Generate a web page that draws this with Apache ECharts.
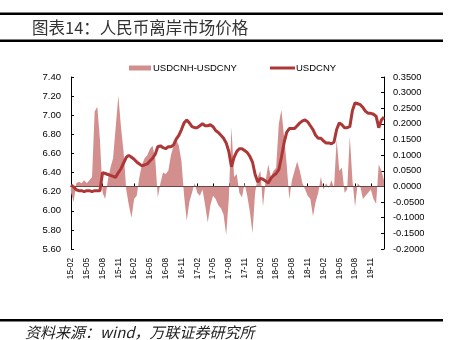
<!DOCTYPE html>
<html><head><meta charset="utf-8">
<script src="https://cdn.jsdelivr.net/npm/echarts@6/dist/echarts.min.js"></script>
<style>html,body{margin:0;padding:0;background:#fff}#c{width:451px;height:340px}</style>
</head><body><div id="c"></div>
<script>
// Tick labels shown on the x axis (every 3 months)
const tickLabels = ['15-02','15-05','15-08','15-11','16-02','16-05','16-08','16-11','17-02','17-05','17-08','17-11','18-02','18-05','18-08','18-11','19-02','19-05','19-08','19-11'];
// Semi-monthly observations starting 2015-02
const startYear = 2015, startMonth = 2, perMonth = 2;
// USDCNY (left axis)
const usdcny = [6.27,6.25,6.22,6.21,6.21,6.20,6.21,6.21,6.20,6.21,
6.21,6.21,6.40,6.39,6.38,6.37,6.36,6.35,6.40,6.44,
6.50,6.56,6.58,6.56,6.54,6.51,6.49,6.47,6.48,6.49,
6.52,6.55,6.59,6.67,6.68,6.66,6.65,6.67,6.67,6.69,
6.75,6.79,6.85,6.92,6.95,6.92,6.88,6.87,6.87,6.89,
6.91,6.89,6.89,6.90,6.88,6.84,6.82,6.79,6.76,6.71,
6.62,6.46,6.56,6.62,6.65,6.65,6.63,6.61,6.57,6.51,
6.38,6.30,6.34,6.33,6.31,6.29,6.34,6.37,6.39,6.43,
6.56,6.71,6.82,6.86,6.86,6.86,6.89,6.92,6.94,6.95,
6.93,6.89,6.85,6.79,6.76,6.76,6.73,6.71,6.71,6.70,
6.72,6.85,6.92,6.90,6.87,6.87,6.88,7.05,7.13,7.12,
7.11,7.08,7.04,7.02,7.02,7.01,6.99,6.87,6.95,6.98];
// USDCNH-USDCNY spread (right axis)
const spread = [-0.02,-0.05,0.01,0.015,0.01,0.02,0.01,0.02,0.03,0.24,
0.255,0.15,-0.02,-0.04,0.02,0.06,0.09,0.19,0.29,0.19,
0.11,-0.01,-0.06,-0.10,-0.04,-0.03,0.03,0.07,0.09,0.10,
0.12,0.13,0.09,-0.035,0.01,0.045,0.04,0.05,0.10,0.13,
0.15,0.13,0.08,-0.03,-0.11,-0.05,-0.02,0.01,-0.02,-0.03,
-0.01,-0.06,-0.115,-0.06,-0.03,-0.04,-0.06,-0.07,-0.09,-0.155,
-0.04,0.19,0.03,0.04,-0.02,-0.035,0.01,-0.03,-0.08,-0.15,
-0.02,0.03,0.05,-0.065,0.02,0.07,0.03,0.05,0.06,0.20,
0.245,0.16,0.07,-0.04,0.02,0.05,0.08,0.05,0.01,-0.01,
-0.03,-0.04,-0.095,-0.05,-0.02,0.03,-0.01,0.01,-0.005,0.02,
-0.005,0.15,0.05,0.06,-0.02,-0.01,0.16,0.02,-0.065,0.01,
0.00,-0.04,-0.03,-0.02,-0.01,-0.04,-0.055,0.07,0.05,0.02];

const categories = usdcny.map((_, k) => {
  const m = startMonth - 1 + Math.floor(k / perMonth);
  const y = startYear + Math.floor(m / 12);
  const mm = (m % 12) + 1;
  return String(y).slice(2) + '-' + String(mm).padStart(2, '0') + (k % perMonth ? '-16' : '-01');
});
const isTick = (i, v) => v.endsWith('-01') && tickLabels.includes(v.slice(0, 5));

const FONT = '"Liberation Sans", Arial, sans-serif';
const chart = echarts.init(document.getElementById('c'), null, {renderer: 'canvas'});
chart.setOption({
  animation: false,
  backgroundColor: '#fff',
  grid: {left: 71, right: 67, top: 77, bottom: 91},
  legend: [
    {left: 124, top: 58, itemWidth: 22, itemHeight: 5, data: [{name: 'USDCNH-USDCNY', icon: 'rect'}],
     textStyle: {fontSize: 9.5, color: '#000', fontFamily: FONT, padding: [0,0,0,-3]}},
    {left: 265, top: 58, itemWidth: 25, itemHeight: 3, data: [{name: 'USDCNY', icon: 'rect'}],
     textStyle: {fontSize: 9.5, color: '#000', fontFamily: FONT, padding: [0,0,0,-4]}}
  ],
  xAxis: {
    type: 'category', data: categories, boundaryGap: false,
    axisLine: {lineStyle: {color: '#000', width: 1}},
    axisTick: {inside: true, length: 3, interval: isTick, lineStyle: {color: '#000'}},
    axisLabel: {interval: isTick, rotate: 90, margin: 9, fontSize: 8.3, color: '#000', fontFamily: FONT,
                formatter: v => v.slice(0, 5)},
    splitLine: {show: false}
  },
  yAxis: [
    {type: 'value', min: 5.6, max: 7.4, interval: 0.2, position: 'left',
     axisLine: {show: true, lineStyle: {color: '#000'}},
     axisTick: {show: true, inside: true, length: 3, lineStyle: {color: '#000'}},
     axisLabel: {margin: 10, fontSize: 9.5, color: '#000', fontFamily: FONT, formatter: v => v.toFixed(2)},
     splitLine: {show: false}},
    {type: 'value', min: -0.2, max: 0.35, interval: 0.05, position: 'right',
     axisLine: {show: true, lineStyle: {color: '#000'}},
     axisTick: {show: true, inside: true, length: 3, lineStyle: {color: '#000'}},
     axisLabel: {margin: 9, fontSize: 9.3, color: '#000', fontFamily: FONT, formatter: v => v.toFixed(4)},
     splitLine: {show: false}}
  ],
  series: [
    {name: 'USDCNH-USDCNY', type: 'line', yAxisIndex: 1, data: spread, symbol: 'none',
     color: '#d38e8e', lineStyle: {width: 0}, areaStyle: {color: '#d38e8e', opacity: 1}, z: 1},
    {name: 'USDCNY', type: 'line', yAxisIndex: 0, data: usdcny, symbol: 'none',
     color: '#ad3737', lineStyle: {width: 3, color: '#ad3737'}, z: 3}
  ],
  graphic: [
    {type: 'rect', shape: {x: 0, y: 12.5, width: 443, height: 2.5}, style: {fill: '#000'}},
    {type: 'rect', shape: {x: 0, y: 39.5, width: 443, height: 2.5}, style: {fill: '#000'}},
    {type: 'text', x: 32, y: 28, style: {text: '图表14：人民币离岸市场价格', font: '16.5px "Noto Sans CJK SC", sans-serif', fill: '#333', textVerticalAlign: 'middle'}},
    {type: 'rect', shape: {x: 0, y: 319, width: 443, height: 2.5}, style: {fill: '#000'}},
    {type: 'text', x: 25, y: 332, style: {text: '资料来源：wind，万联证券研究所', font: 'italic 15px "Noto Sans CJK SC", sans-serif', fill: '#222', textVerticalAlign: 'middle'}}
  ]
});
</script></body></html>
